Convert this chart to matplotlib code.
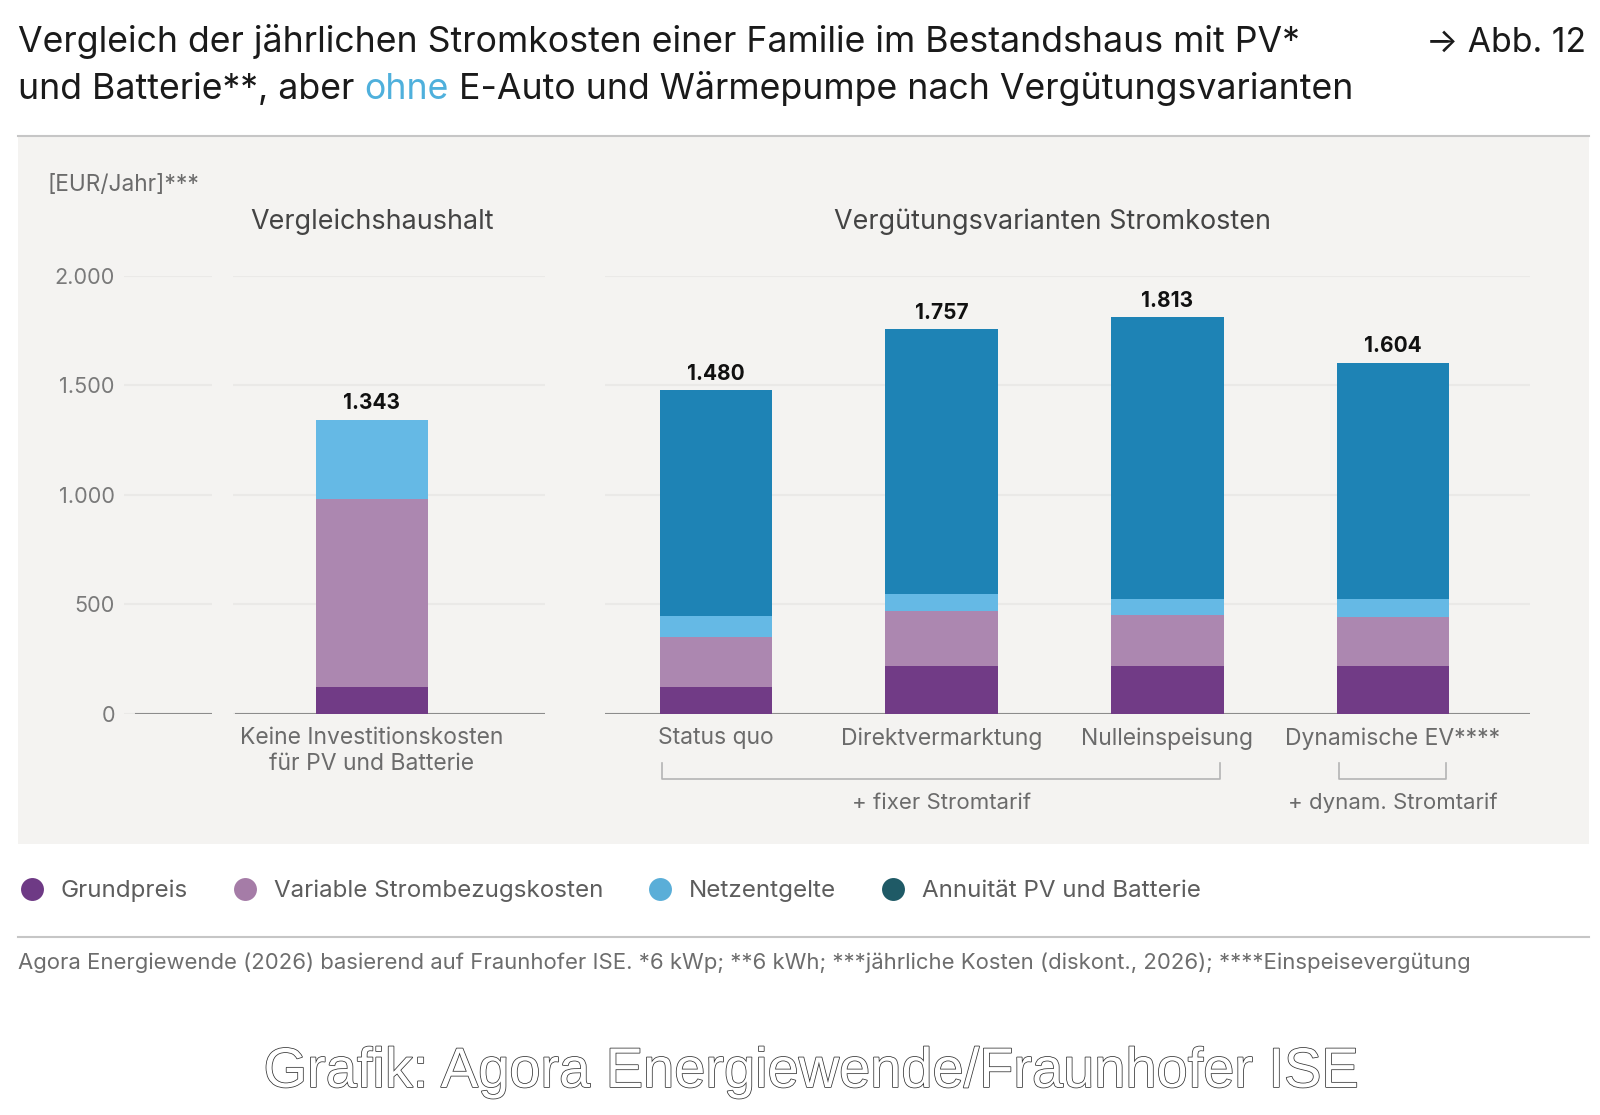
import matplotlib.pyplot as plt
import matplotlib.patheffects as pe
from matplotlib.lines import Line2D
from matplotlib.patches import Rectangle

W, H = 1600, 1115

# Daten
components = ['Grundpreis', 'Variable Strombezugskosten', 'Netzentgelte', 'Annuität PV und Batterie']
bar_colors = ['#713b86', '#ac87b0', '#65b9e5', '#1e83b5']
legend_colors = ['#6e3a85', '#a57ca7', '#5aaed8', '#1f5a66']

ref_label = 'Keine Investitionskosten\nfür PV und Batterie'
ref_values = [120, 862, 361, 0]
ref_total = 1343

variants = ['Status quo', 'Direktvermarktung', 'Nulleinspeisung', 'Dynamische EV****']
grundpreis = [120, 219, 219, 219]
variable = [230, 248, 233, 224]
netz = [94, 79, 73, 81]
annuitaet = [1036, 1211, 1288, 1080]
totals = [1480, 1757, 1813, 1604]

tariffs = [('+ fixer Stromtarif', 0, 2), ('+ dynam. Stromtarif', 3, 3)]
yticks = [0, 500, 1000, 1500, 2000]

FONT = 'Inter'
plt.rcParams['font.family'] = [FONT, 'DejaVu Sans']


def fmt(v):
    return f'{v:,}'.replace(',', '.')


def fx(x):
    return x / W


def fy(y):
    return 1 - y / H


def ax_rect(x0, x1, y_top=276, y_bot=713.5):
    return [x0 / W, 1 - y_bot / H, (x1 - x0) / W, (y_bot - y_top) / H]


fig = plt.figure(figsize=(W / 100, H / 100), dpi=100)
fig.patch.set_facecolor('white')

# Hintergrund-Achse fuer Panel, Linien und Titel
bg = fig.add_axes([0, 0, 1, 1], zorder=-5)
bg.set_xlim(0, W)
bg.set_ylim(H, 0)
bg.axis('off')
bg.add_patch(Rectangle((18, 137), 1571, 707, facecolor='#f4f3f1', edgecolor='none'))
bg.plot([18, 1589], [136, 136], color='#c6c6c6', lw=1.5)
bg.plot([18, 1589], [937, 937], color='#c6c6c6', lw=1.5)

# Titel
TS = 25.7
t1 = bg.text(18, 52, 'Vergleich der jährlichen Stromkosten einer Familie im Bestandshaus mit PV*',
             fontsize=TS, color='#1a1a1a', va='baseline')
t2 = bg.text(18, 99, 'und Batterie**, aber ', fontsize=TS, color='#1a1a1a', va='baseline')
t3 = bg.annotate('ohne', xycoords=t2, xy=(1, 0), va='bottom', fontsize=TS, color='#4fb0dc')
bg.annotate(' E-Auto und Wärmepumpe nach Vergütungsvarianten', xycoords=t3, xy=(1, 0),
            va='bottom', fontsize=TS, color='#1a1a1a')
bg.text(1586, 52, '\u2192 Abb. 12', fontsize=24.3, color='#1a1a1a', va='baseline', ha='right')

bg.text(48, 191, '[EUR/Jahr]***', fontsize=16.3, color='#6b6b6b', va='baseline')
bg.text(372, 229, 'Vergleichshaushalt', fontsize=19.4, color='#444444', va='baseline', ha='center')
bg.text(1053, 229, 'Vergütungsvarianten Stromkosten', fontsize=19.4, color='#444444',
        va='baseline', ha='center')

# Achsen
ax0 = fig.add_axes(ax_rect(124, 212))
ax1 = fig.add_axes(ax_rect(233, 545), sharey=ax0)
ax2 = fig.add_axes(ax_rect(605, 1530), sharey=ax0)

for ax in (ax0, ax1, ax2):
    ax.set_facecolor('none')
    for s in ax.spines.values():
        s.set_visible(False)
    ax.set_ylim(0, 2000)
    ax.set_yticks(yticks)
    ax.yaxis.grid(True, color='#eae9e7', lw=1.5)
    ax.set_axisbelow(True)
    ax.tick_params(axis='both', length=0)

ax0.set_xticks([])
ax0.set_yticklabels([fmt(v) for v in yticks])
ax0.tick_params(axis='y', labelsize=15.6, labelcolor='#7a7a7a', pad=6.5)
ax0.axhline(0, xmin=0.14, xmax=1, color='#8c8c8c', lw=1.5)
ax1.tick_params(axis='y', labelleft=False)
ax2.tick_params(axis='y', labelleft=False)
ax1.axhline(0, xmin=0.01, xmax=1, color='#8c8c8c', lw=1.5)
ax2.axhline(0, color='#8c8c8c', lw=1.5)

# Vergleichshaushalt
bottom = 0
for val, col in zip(ref_values, bar_colors):
    c = ax1.bar([0], [val], bottom=bottom, width=0.5, color=col, lw=0, zorder=3)
    bottom += val
ax1.bar_label(c, labels=[fmt(ref_total)], padding=4.5, fontsize=15,
              fontweight='bold', color='#111111')
ax1.set_xlim(-0.616, 0.767)
ax1.set_xticks([0], [ref_label])
ax1.tick_params(axis='x', labelsize=16.5, labelcolor='#6b6b6b', pad=10)

# Verguetungsvarianten
x = list(range(len(variants)))
bottoms = [0] * len(variants)
for vals, col in zip([grundpreis, variable, netz, annuitaet], bar_colors):
    c = ax2.bar(x, vals, bottom=bottoms, width=0.5, color=col, lw=0, zorder=3)
    bottoms = [b + v for b, v in zip(bottoms, vals)]
ax2.bar_label(c, labels=[fmt(t) for t in totals], padding=4.5, fontsize=15,
              fontweight='bold', color='#111111')
ax2.set_xlim(-0.492, 3.607)
ax2.set_xticks(x, variants)
ax2.tick_params(axis='x', labelsize=16.5, labelcolor='#6b6b6b', pad=10)

# Klammern fuer Stromtarife
tr = ax2.get_xaxis_transform()
y_a, y_b, y_t = -0.113, -0.150, -0.205
for label, i0, i1 in tariffs:
    xl, xr = x[i0] - 0.24, x[i1] + 0.235
    ax2.plot([xl, xl, xr, xr], [y_a, y_b, y_b, y_a], transform=tr, color='#b4b4b4',
             lw=1.2, clip_on=False)
    ax2.text((xl + xr) / 2, y_t, label, transform=tr, ha='center', va='center',
             fontsize=16.0, color='#6b6b6b')

# Legende
handles = [Line2D([], [], marker='o', ls='none', markersize=16.5, color=c, mec='none')
           for c in legend_colors]
fig.legend(handles, components, ncol=4, loc='center left', bbox_to_anchor=(fx(19.5), fy(891)),
           frameon=False, fontsize=17.4, labelcolor='#5d5d5d', handlelength=1.03,
           handletextpad=0.67, columnspacing=1.85, borderpad=0, borderaxespad=0)

# Quelle
bg.text(18, 969, 'Agora Energiewende (2026) basierend auf Fraunhofer ISE. *6 kWp; **6 kWh; '
        '***jährliche Kosten (diskont., 2026); ****Einspeisevergütung',
        fontsize=15.9, color='#6d6d6d', va='baseline')

# Wasserzeichen
bg.text(811, 1073, 'Grafik: Agora Energiewende/Fraunhofer ISE', family='Liberation Sans',
        fontsize=40.3, color='white', ha='center', va='center',
        path_effects=[pe.withStroke(linewidth=1.1, foreground='#333333')])

fig.savefig('out.png', dpi=100, facecolor='white')
